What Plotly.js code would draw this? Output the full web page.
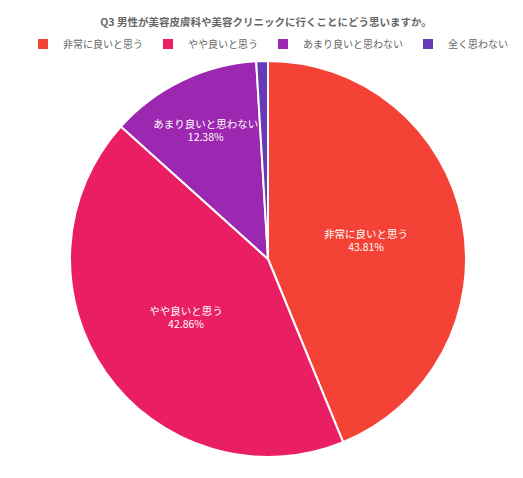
<!DOCTYPE html>
<html>
<head>
<meta charset="utf-8">
<script src="https://cdn.plot.ly/plotly-3.0.1.min.js"></script>
<style>
  html, body { margin: 0; padding: 0; background: #fff; }
  #chart { width: 523px; height: 478px; }
</style>
</head>
<body>
<div id="chart"></div>
<script>
// Q3 answers (share of respondents)
const labels = ["非常に良いと思う", "やや良いと思う", "あまり良いと思わない", "全く思わない"];
const values = [43.81, 42.86, 12.38, 0.95];
const colors = ["#F44336", "#E91E63", "#9C27B0", "#673AB7"];

const font = "'Noto Sans CJK JP', 'Noto Sans', sans-serif";

// the tiny last slice carries no text in the reference
const templates = labels.map((l, i) => values[i] < 2 ? "" : "%{label}<br>%{percent:.2%}");

var data = [{
    type: "pie",
    labels: labels,
    values: values,
    sort: false,
    direction: "clockwise",
    rotation: 0,
    // full-width plot area so the legend fits on one row; pie kept in place by domain
    domain: { x: [70 / 523, 466 / 523], y: [0, 1] },
    marker: { colors: colors, line: { color: "#fff", width: 2 } },
    textposition: "inside",
    insidetextorientation: "horizontal",
    texttemplate: templates,
    textfont: { family: font, size: 11, color: "#fff" },
    hoverinfo: "label+percent",
    showlegend: true
}];

var layout = {
    width: 523,
    height: 478,
    margin: { t: 60, l: 0, r: 0, b: 20 },
    paper_bgcolor: "#fff",
    font: { family: font, color: "#666" },
    title: {
        text: "<b>Q3 男性が美容皮膚科や美容クリニックに行くことにどう思いますか。</b>",
        font: { family: font, size: 10.5, color: "#666" },
        x: 266 / 523, xref: "paper", xanchor: "center",
        y: 1 - 22 / 478, yref: "container", yanchor: "middle"
    },
    legend: {
        orientation: "h",
        x: 268 / 523, xanchor: "center",
        y: 1 + 16 / 398, yanchor: "middle",
        font: { family: font, size: 10, color: "#666" },
        tracegroupgap: 0
    },
    uniformtext: { mode: "show", minsize: 10 }
};

Plotly.newPlot("chart", data, layout, { displayModeBar: false, staticPlot: true });
</script>
</body>
</html>
